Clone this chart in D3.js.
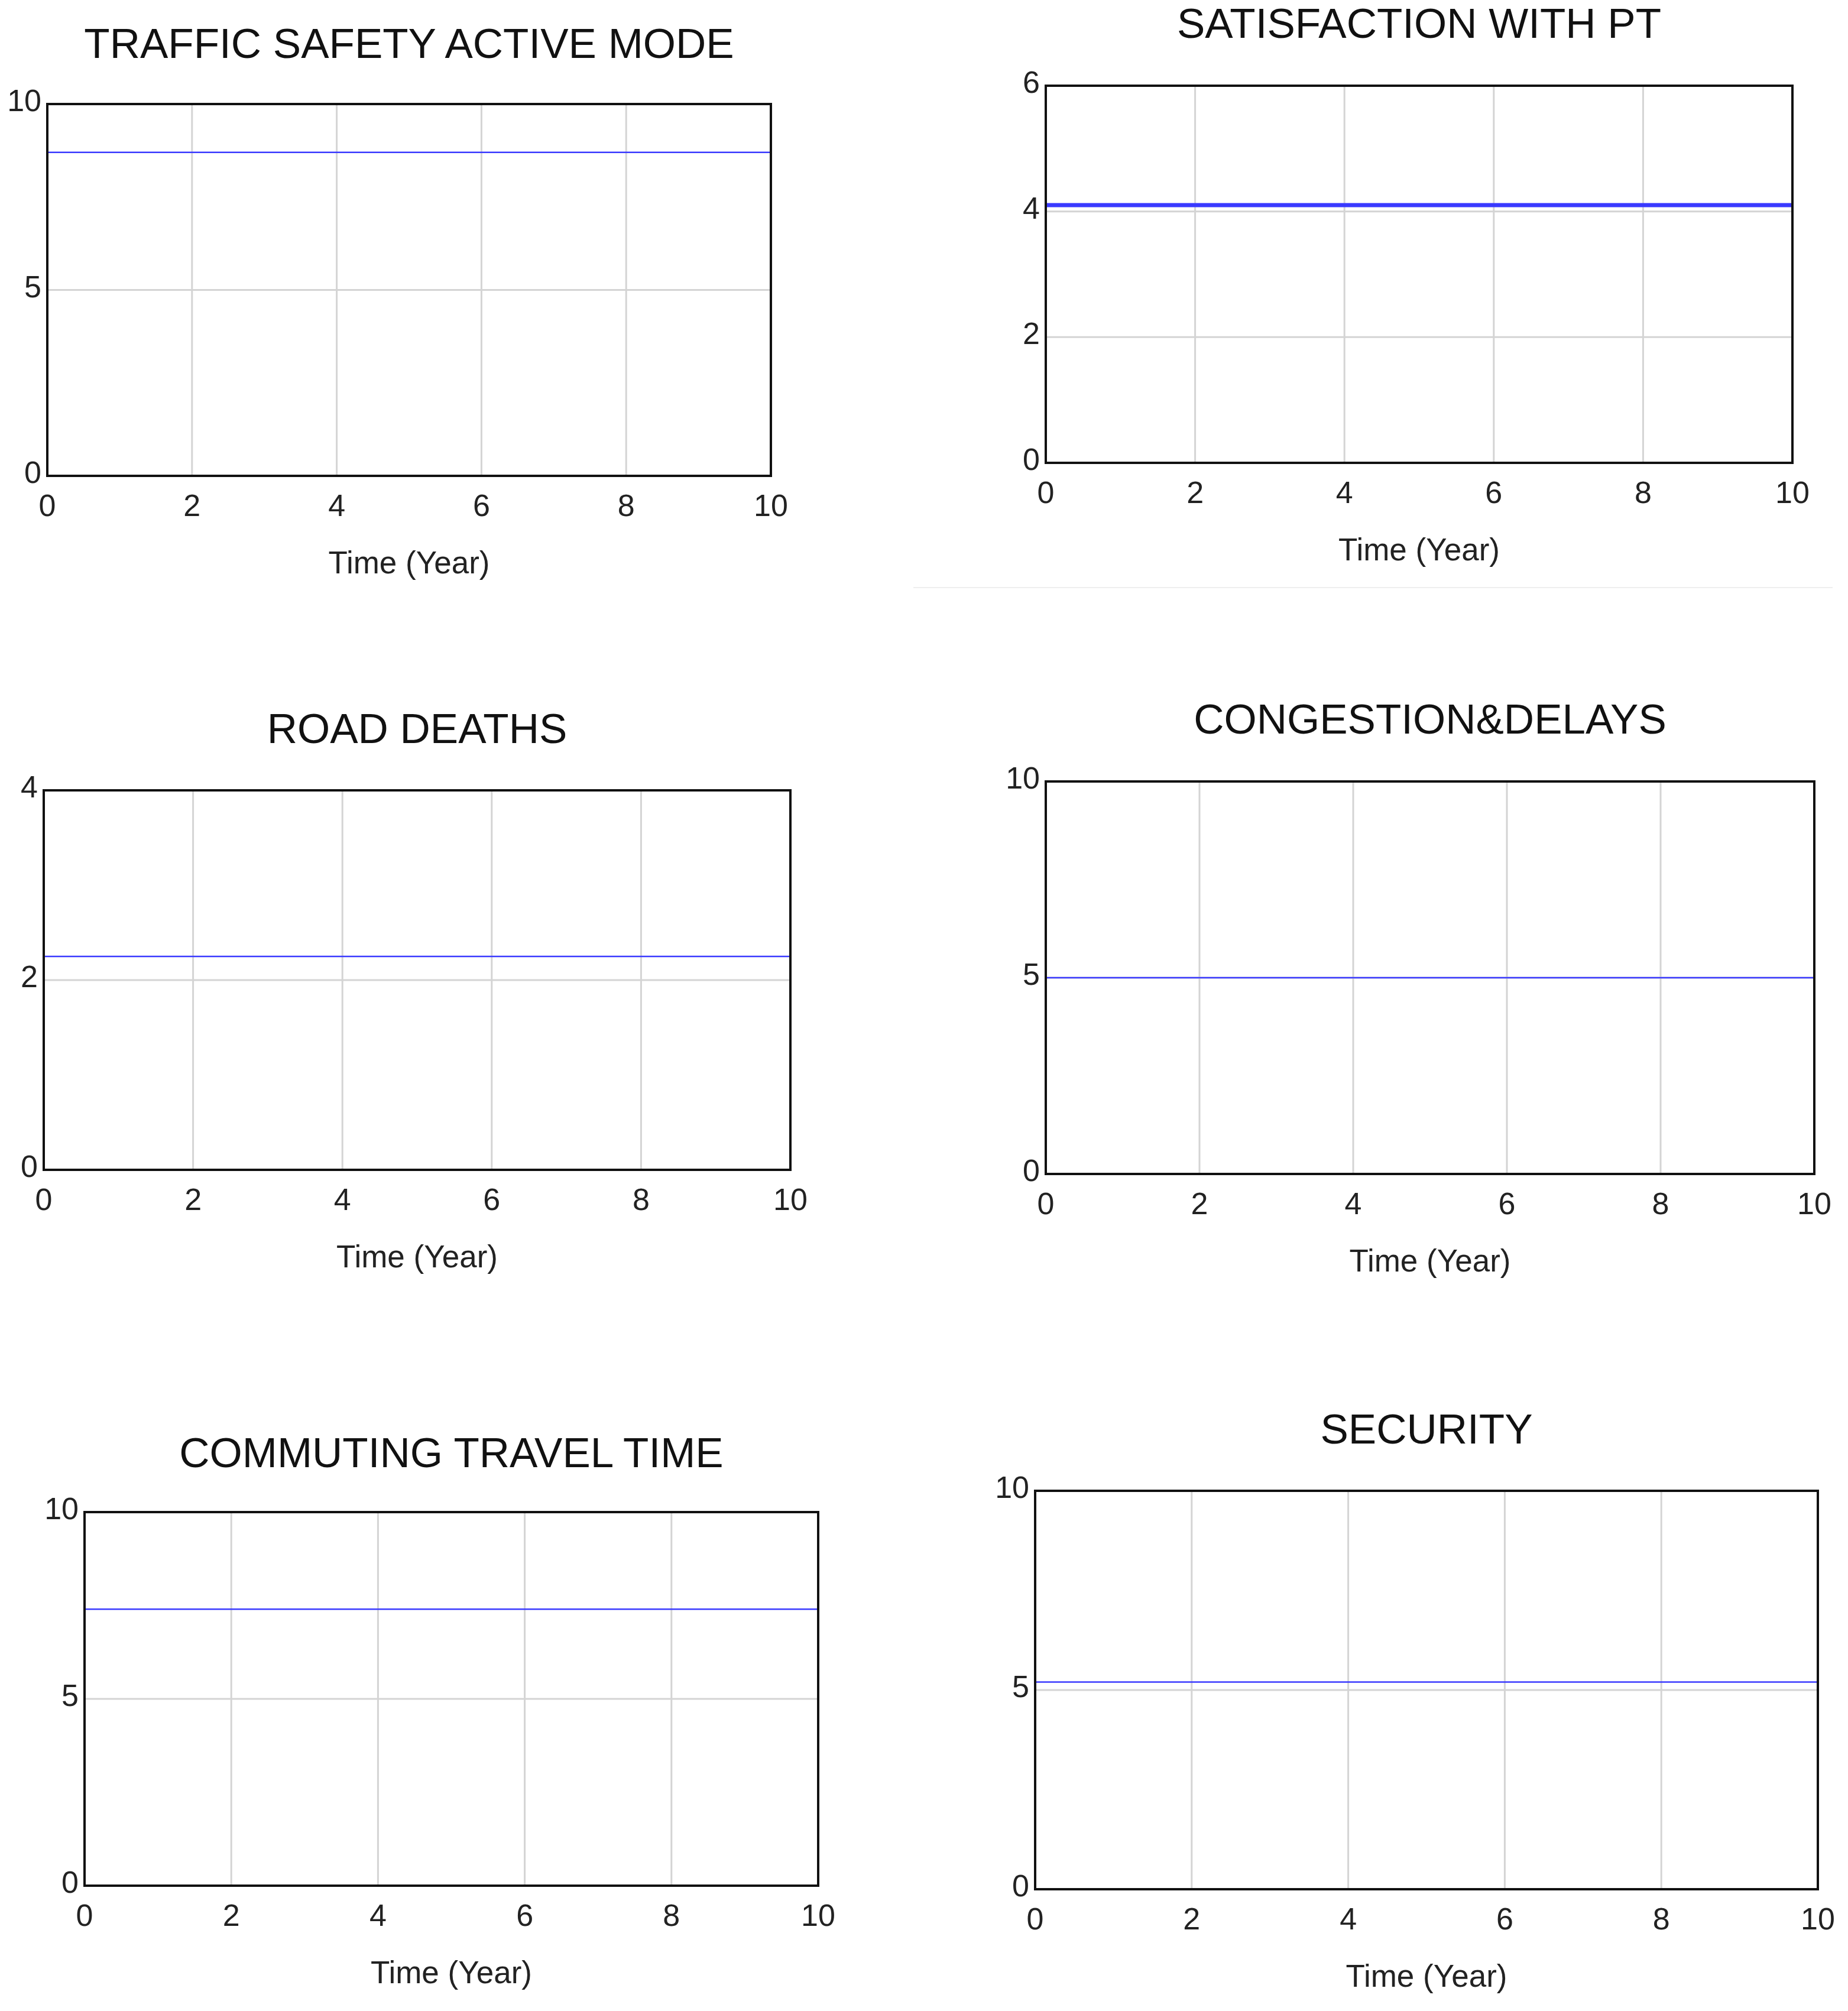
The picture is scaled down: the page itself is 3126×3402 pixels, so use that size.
<!DOCTYPE html>
<html>
<head>
<meta charset="utf-8">
<script src="https://cdn.jsdelivr.net/npm/d3@7"></script>
<style>
  body { margin: 0; background: #fff; }
  text { font-family: Arial, "Liberation Sans", sans-serif; }
</style>
</head>
<body>
<svg id="chart" width="3126" height="3402"></svg>
<script>
// chart data
const titles = ["TRAFFIC SAFETY ACTIVE MODE", "SATISFACTION WITH PT", "ROAD DEATHS",
  "CONGESTION&DELAYS", "COMMUTING TRAVEL TIME", "SECURITY"];
const values = [8.7, 4.1, 2.25, 5.0, 7.4, 5.2];
const yMax = [10, 6, 4, 10, 10, 10];
const yTicks = [[0, 5, 10], [0, 2, 4, 6], [0, 2, 4], [0, 5, 10], [0, 5, 10], [0, 5, 10]];
const xTicks = [0, 2, 4, 6, 8, 10];
const years = [0, 10];

// panel boxes (plot area) in page pixels
const boxes = [
  { x0: 80, x1: 1304, y0: 176, y1: 805, ty: 98, lw: 2.5 },
  { x0: 1769, x1: 3032, y0: 145, y1: 783, ty: 64, lw: 7 },
  { x0: 74, x1: 1337, y0: 1337, y1: 1979, ty: 1257, lw: 2.5 },
  { x0: 1769, x1: 3069, y0: 1322, y1: 1986, ty: 1241, lw: 2.5 },
  { x0: 143, x1: 1384, y0: 2558, y1: 3190, ty: 2482, lw: 2.5 },
  { x0: 1751, x1: 3075, y0: 2522, y1: 3196, ty: 2442, lw: 2.5 }
];

const svg = d3.select("#chart");

// faint separator under second panel
svg.append("line").attr("x1", 1545).attr("x2", 3100).attr("y1", 994).attr("y2", 994)
  .attr("stroke", "#eee").attr("stroke-width", 2);

boxes.forEach((b, i) => {
  const x = d3.scaleLinear().domain([0, 10]).range([b.x0, b.x1]);
  const y = d3.scaleLinear().domain([0, yMax[i]]).range([b.y1, b.y0]);
  const g = svg.append("g");

  // grid
  g.selectAll(".vg").data(xTicks.slice(1, -1)).enter().append("line")
    .attr("x1", d => x(d)).attr("x2", d => x(d)).attr("y1", b.y0).attr("y2", b.y1)
    .attr("stroke", "#d4d4d4").attr("stroke-width", 3);
  g.selectAll(".hg").data(yTicks[i].slice(1, -1)).enter().append("line")
    .attr("x1", b.x0).attr("x2", b.x1).attr("y1", d => y(d)).attr("y2", d => y(d))
    .attr("stroke", "#d4d4d4").attr("stroke-width", 3);

  // series
  const line = d3.line().x(d => x(d)).y(() => y(values[i]));
  g.append("path").attr("d", line(years)).attr("fill", "none")
    .attr("stroke", "#3a3aff").attr("stroke-width", b.lw);

  // frame
  g.append("rect").attr("x", b.x0).attr("y", b.y0)
    .attr("width", b.x1 - b.x0).attr("height", b.y1 - b.y0)
    .attr("fill", "none").attr("stroke", "#111").attr("stroke-width", 4);

  // tick labels
  g.selectAll(".xt").data(xTicks).enter().append("text")
    .attr("x", d => x(d)).attr("y", b.y1 + 68).attr("text-anchor", "middle")
    .attr("font-size", 52).attr("fill", "#222").text(d => d);
  g.selectAll(".yt").data(yTicks[i]).enter().append("text")
    .attr("x", b.x0 - 10).attr("y", d => y(d) + 12).attr("text-anchor", "end")
    .attr("font-size", 52).attr("fill", "#222").text(d => d);

  // axis label and title
  g.append("text").attr("x", (b.x0 + b.x1) / 2).attr("y", b.y1 + 165)
    .attr("text-anchor", "middle").attr("font-size", 53).attr("fill", "#222").text("Time (Year)");
  g.append("text").attr("x", (b.x0 + b.x1) / 2).attr("y", b.ty)
    .attr("text-anchor", "middle").attr("font-size", 71).attr("fill", "#111").text(titles[i]);
});
</script>
</body>
</html>
